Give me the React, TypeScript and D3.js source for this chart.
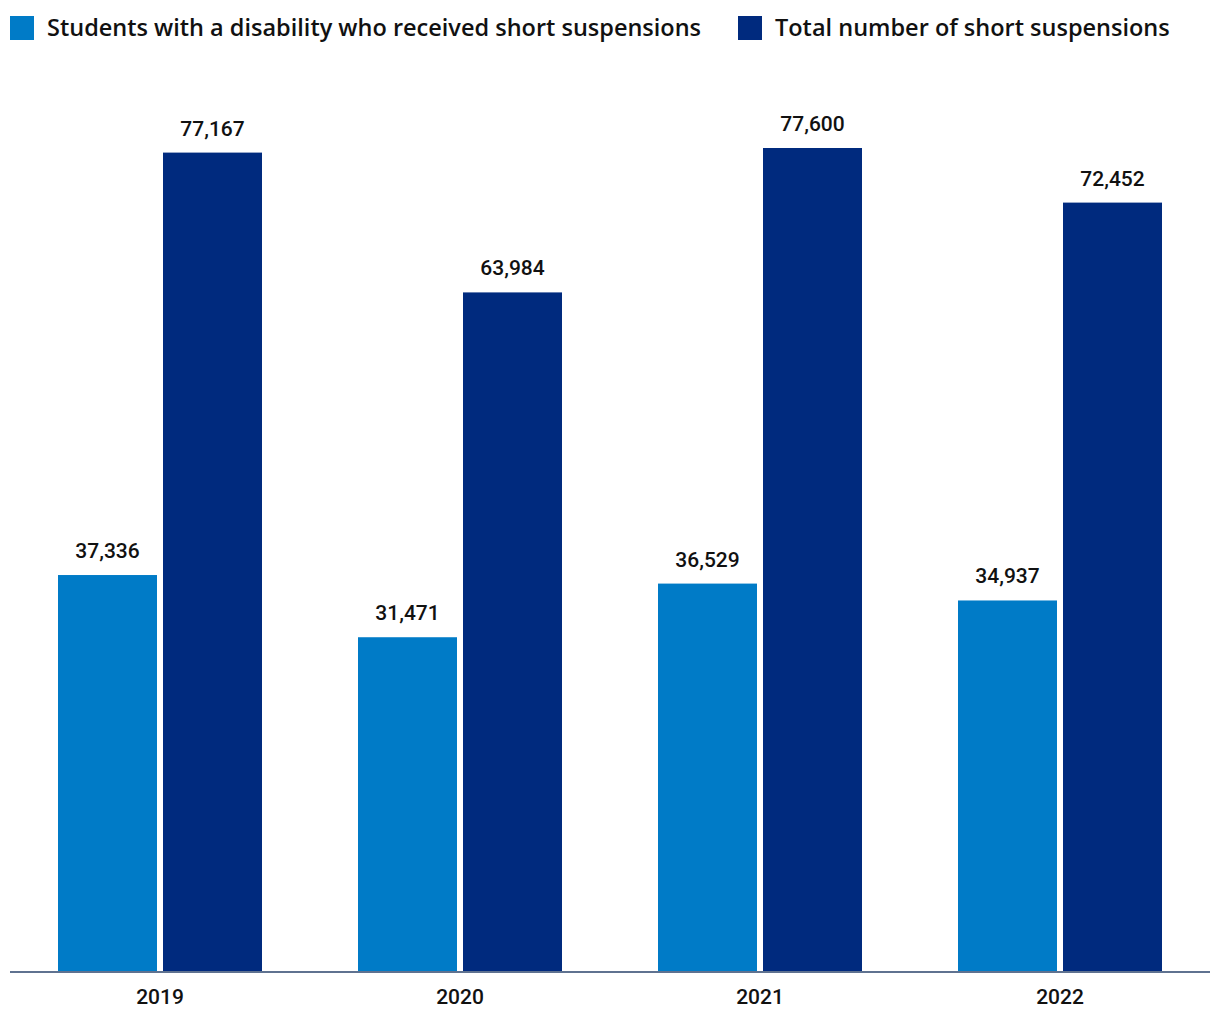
import React from "react";
import * as d3 from "d3";

const years = ["2019", "2020", "2021", "2022"];
const seriesNames = [
  "Students with a disability who received short suspensions",
  "Total number of short suspensions",
];
const disabilityValues = [37336, 31471, 36529, 34937];
const totalValues = [77167, 63984, 77600, 72452];
const colors = ["#007bc7", "#002a7e"];

const W = 1220;
const H = 1020;
const FONT = "Roboto, 'Noto Sans', sans-serif";
const LEGEND_FONT = "'Open Sans', Roboto, sans-serif";

export default function App() {
  const x0 = d3
    .scaleBand<string>()
    .domain(years)
    .range([10, 1210])
    .paddingInner(0.32)
    .paddingOuter(0.16);
  const x1 = d3
    .scaleBand<string>()
    .domain(seriesNames)
    .range([0, x0.bandwidth()])
    .paddingInner(6 / 105);
  const y = d3.scaleLinear().domain([0, 77600]).range([971, 148]);
  const fmt = d3.format(",");
  const seriesValues = [disabilityValues, totalValues];

  const legendX = [10, 738];

  return (
    <svg
      width={W}
      height={H}
      style={{ position: "absolute", left: 0, top: 0, background: "#fff" }}
      fontFamily={FONT}
    >
      {seriesNames.map((name, i) => (
        <g key={name} transform={`translate(${legendX[i]},0)`}>
          <rect x={0} y={16} width={24} height={24} fill={colors[i]} />
          <text
            x={37}
            y={36}
            fontSize={23.5}
            fontWeight={600}
            fill="#111"
            fontFamily={LEGEND_FONT}
          >
            {name}
          </text>
        </g>
      ))}
      {years.map((yr, yi) => (
        <g key={yr} transform={`translate(${x0(yr)},0)`}>
          {seriesNames.map((name, si) => {
            const v = seriesValues[si][yi];
            const bx = x1(name)!;
            const bw = x1.bandwidth();
            return (
              <g key={name}>
                <rect x={bx} y={y(v)} width={bw} height={y(0) - y(v)} fill={colors[si]} />
                <text
                  x={bx + bw / 2}
                  y={y(v) - 17}
                  textAnchor="middle"
                  fontSize={21}
                  fontWeight={500}
                  fill="#111"
                >
                  {fmt(v)}
                </text>
              </g>
            );
          })}
          <text
            x={x0.bandwidth() / 2}
            y={1004}
            textAnchor="middle"
            fontSize={21}
            fontWeight={500}
            fill="#111"
          >
            {yr}
          </text>
        </g>
      ))}
      <line x1={10} x2={1210} y1={972} y2={972} stroke="#5f7290" strokeWidth={2} />
    </svg>
  );
}
